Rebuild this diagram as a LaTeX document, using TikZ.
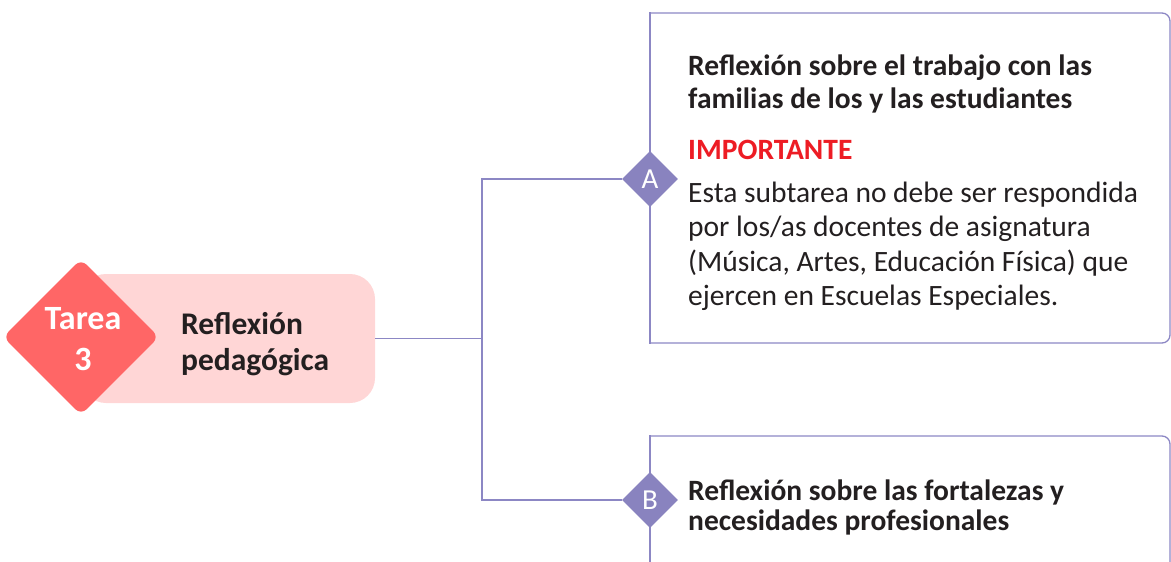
\documentclass[tikz,border=0pt]{standalone}
\usepackage{fontspec}
\setmainfont{Carlito}
\usetikzlibrary{shapes.geometric}
\definecolor{lav}{RGB}{140,135,196}
\definecolor{lavd}{RGB}{137,131,191}
\definecolor{redd}{RGB}{255,102,102}
\definecolor{pinkb}{RGB}{255,214,214}
\definecolor{redt}{RGB}{237,28,36}
\definecolor{dark}{RGB}{35,31,32}
\tikzset{
  conn/.style={draw=lav,line width=1.3pt},
  boxline/.style={draw=lav,line width=1.3pt},
  letterdia/.style={diamond,aspect=1,fill=lavd,inner sep=0pt,minimum width=56pt,minimum height=56pt,text=white,font=\fontsize{29}{29}\selectfont},
  txt/.style={anchor=base west,inner sep=0pt,text=dark,font=\fontsize{29.5}{29.5}\selectfont},
  btxt/.style={txt,font=\fontsize{29.5}{29.5}\selectfont\bfseries},
  tareatxt/.style={anchor=base,inner sep=0pt,text=white,font=\fontsize{34}{34}\selectfont\bfseries},
  pinktxt/.style={txt,font=\fontsize{31.5}{31.5}\selectfont\bfseries},
}
\begin{document}
\begin{tikzpicture}[x=1pt,y=-1pt]
\useasboundingbox (0,0) rectangle (1171,562);
\clip (0,0) rectangle (1171,562);
% pink box and red diamond
\node[fill=pinkb,rounded corners=25pt,minimum width=294pt,minimum height=129pt,inner sep=0pt] (pink) at (228,338.5) {};
\node[diamond,aspect=1,fill=redd,rounded corners=8pt,inner sep=0pt,minimum width=156pt,minimum height=156pt] (tarea) at (81,337) {};
\node[tareatxt] (t1) at (83,329) {Tarea};
\node[tareatxt] (t2) at (83,370) {3};
\node[pinktxt] (p1) at (181,334) {Reflexión};
\node[pinktxt] (p2) at (181,370) {pedagógica};
% boxes
\draw[boxline,rounded corners=8pt] (650,343) -- (1170,343) -- (1170,13) -- (650,13);
\draw[boxline,line cap=rect] (650,13) -- (650,343);
\draw[boxline,rounded corners=8pt] (650,436) -- (1170,436) -- (1170,600);
\draw[boxline,line cap=rect] (650,436) -- (650,600);
% connectors
\coordinate (j) at (482,338.5);
\node[letterdia] (A) at (650,179) {A};
\node[letterdia] (B) at (650,500) {B};
\draw[conn] (pink.east) -- (j);
\draw[conn] (A.west) -| (j);
\draw[conn] (B.west) -| (j);
% box A text
\node[btxt] (a1) at (688,75) {Reflexión sobre el trabajo con las};
\node[btxt] (a2) at (688,108.5) {familias de los y las estudiantes};
\node[btxt,text=redt] (a3) at (688,159) {IMPORTANTE};
\node[txt] (a4) at (688,202) {Esta subtarea no debe ser respondida};
\node[txt] (a5) at (688,236.5) {por los/as docentes de asignatura};
\node[txt] (a6) at (688,271) {(Música, Artes, Educación Física) que};
\node[txt] (a7) at (688,305) {ejercen en Escuelas Especiales.};
% box B text
\node[btxt] (b1) at (688,500) {Reflexión sobre las fortalezas y};
\node[btxt] (b2) at (688,530) {necesidades profesionales};
\end{tikzpicture}
\end{document}
